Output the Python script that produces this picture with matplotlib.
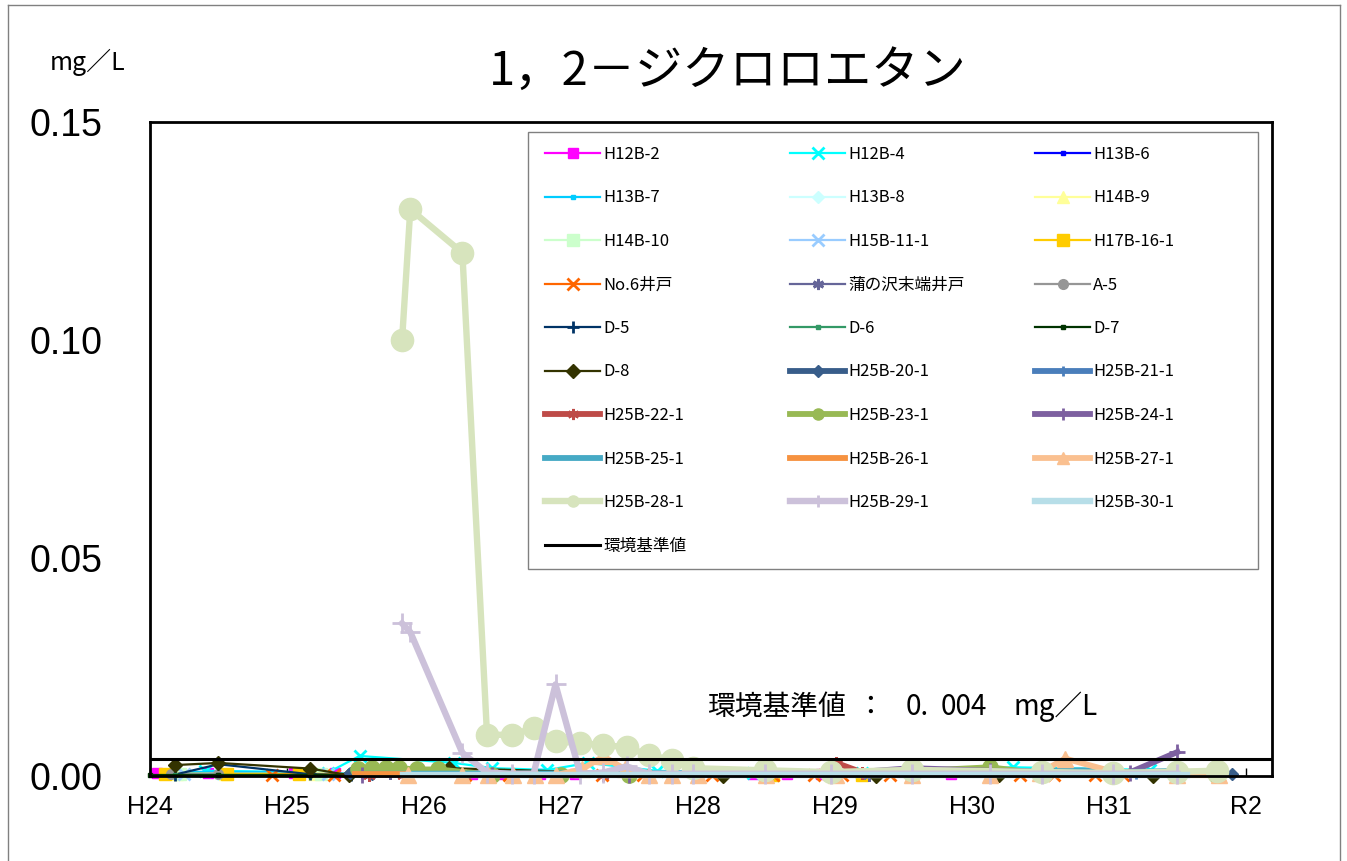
import numpy as np
import matplotlib
matplotlib.use("Agg")
import matplotlib.pyplot as plt
from matplotlib.lines import Line2D
from matplotlib.patches import Rectangle

jp = ['Noto Sans CJK JP', 'DejaVu Sans']
num = ['Liberation Sans', 'DejaVu Sans']

# x values are years counted from the start of H24
year_labels = ['H24', 'H25', 'H26', 'H27', 'H28', 'H29', 'H30', 'H31', 'R2']
limit_value = 0.004

# older wells
t_h12b2 = [0.05, 0.42, 1.05, 1.35, 2.35, 2.55, 2.85, 3.1, 4.4, 4.65, 4.9, 5.85]
v_h12b2 = [0.0006, 0.0006, 0.0006, 0.0006, 0.0005, 0.0005, 0.0005, 0.0005, 0.0005, 0.0005, 0.0005, 0.0005]
t_h12b4 = [0.4, 1.3, 1.53, 2.22, 2.5, 2.9, 3.2, 3.7, 4.4, 5.2, 5.55, 6.3, 7.3]
v_h12b4 = [0.0012, 0.0008, 0.0046, 0.003, 0.0018, 0.0014, 0.003, 0.0012, 0.0008, 0.0008, 0.0012, 0.002, 0.0014]
t_h13b6 = [0.18, 0.5, 1.17, 1.47]
v_h13b6 = [0.0004, 0.0004, 0.0004, 0.0004]
t_h13b7 = [0.18, 0.5, 1.17, 1.47]
v_h13b7 = [0.0009, 0.0010, 0.0008, 0.0006]
t_h13b8 = [0.18, 0.5, 1.17, 1.47]
v_h13b8 = [0.0005, 0.0005, 0.0005, 0.0005]
t_h14b9 = [0.2, 0.55, 1.2]
v_h14b9 = [0.0004, 0.0004, 0.0004]
t_h14b10 = [0.22, 1.25]
v_h14b10 = [0.0005, 0.0005]
t_h15b11 = [0.25, 1.3]
v_h15b11 = [0.0004, 0.0004]
t_h17b16 = [0.11, 0.56, 1.09, 4.55, 5.2]
v_h17b16 = [0.0005, 0.0005, 0.0005, 0.0003, 0.0003]
t_no6 = [0.89, 1.34, 2.3, 2.62, 3.3, 3.6, 4.1, 4.55, 4.85, 5.05, 5.4, 6.35, 6.6, 6.9, 7.1, 7.5, 7.8]
v_no6 = [0.0003, 0.0003, 0.0002, 0.0002, 0.0002, 0.0002, 0.0002, 0.0002, 0.0002, 0.0002, 0.0002,
         0.0002, 0.0002, 0.0002, 0.0002, 0.0002, 0.0002]
t_kaba = [1.6, 1.75, 4.95, 5.25]
v_kaba = [0.0006, 0.0006, 0.0003, 0.0003]
t_a5 = [0.15, 0.5]
v_a5 = [0.0005, 0.0005]
t_d5 = [0.18, 0.5, 1.17, 1.47]
v_d5 = [0.0003, 0.0027, 0.0004, 0.0002]
t_d6 = [0.18, 0.5, 1.17, 1.47]
v_d6 = [0.0003, 0.0003, 0.0003, 0.0003]
t_d7 = [0.0, 0.5, 1.17, 1.47]
v_d7 = [0.0002, 0.0002, 0.0002, 0.0002]
t_d8 = [0.18, 0.5, 1.17, 1.45, 2.18, 4.18, 5.3, 6.2, 7.32]
v_d8 = [0.0025, 0.003, 0.0017, 0.0002, 0.0018, 0.0, 0.0, 0.0002, 0.0]

# H25 wells
t_20 = [1.46, 1.62, 7.82, 7.9]
v_20 = [0.0008, 0.0005, 0.0004, 0.0004]
t_21 = [1.55, 7.2, 7.8]
v_21 = [0.0004, 0.0004, 0.0004]
t_22 = [1.6, 1.85, 2.3, 2.65, 2.96, 3.31, 3.64, 4.0, 4.5, 4.95, 5.01, 5.2, 5.56, 6.13, 6.51, 7.03, 7.5, 7.8]
v_22 = [0.0003, 0.0003, 0.0003, 0.0003, 0.0003, 0.0003, 0.0003, 0.0003, 0.0003, 0.0003, 0.003, 0.0008,
        0.0005, 0.0003, 0.0003, 0.0003, 0.0003, 0.0002]
t_23 = [1.52, 1.62, 1.72, 1.82, 1.95, 2.1, 2.5, 3.0, 3.5, 4.5, 5.56, 6.13, 6.5, 7.5, 7.78]
v_23 = [0.0015, 0.0018, 0.0018, 0.0018, 0.0015, 0.0015, 0.0003, 0.0003, 0.0003, 0.0003, 0.0011, 0.002,
        0.0006, 0.0002, 0.0002]
t_24 = [1.55, 2.5, 3.5, 4.95, 5.56, 6.13, 6.51, 7.15, 7.5]
v_24 = [0.0003, 0.0003, 0.0003, 0.0004, 0.0018, 0.0012, 0.001, 0.0008, 0.0055]
t_25 = [1.55, 6.2, 6.5, 6.8, 7.15, 7.5]
v_25 = [0.0005, 0.0008, 0.0012, 0.0013, 0.0009, 0.0012]
t_26 = [1.5, 1.85]
v_26 = [0.0004, 0.0004]
t_27 = [1.88, 2.28, 2.47, 2.65, 2.81, 2.96, 3.15, 3.31, 3.47, 3.64, 3.81, 4.0, 4.5, 5.01, 5.56, 6.13,
        6.5, 6.68, 7.03, 7.5, 7.8]
v_27 = [0.0002, 0.0002, 0.0002, 0.0002, 0.0002, 0.0002, 0.0015, 0.0045, 0.0015, 0.0002, 0.0002, 0.0002,
        0.0002, 0.0002, 0.0002, 0.0002, 0.0008, 0.004, 0.001, 0.0002, 0.0002]
t_28 = [1.84, 1.90, 2.28, 2.46, 2.64, 2.80, 2.96, 3.14, 3.31, 3.48, 3.64, 3.81, 3.96, 4.49, 4.97, 5.56,
        6.51, 7.03, 7.5, 7.79]
v_28 = [0.100, 0.130, 0.120, 0.0095, 0.0094, 0.011, 0.0080, 0.0075, 0.0071, 0.0066, 0.0048, 0.0037,
        0.0018, 0.0013, 0.0009, 0.0014, 0.0009, 0.0007, 0.0010, 0.0012]
t_29 = [1.84, 1.90, 2.28, 2.46, 2.64, 2.80, 2.96, 3.14, 3.31, 3.48, 3.64, 3.81, 3.96, 4.49, 4.97, 5.56,
        6.13, 6.51, 7.03, 7.5]
v_29 = [0.035, 0.033, 0.0053, 0.0008, 0.0005, 0.0005, 0.021, 0.0005, 0.0008, 0.0022, 0.0005, 0.0005,
        0.0005, 0.0005, 0.0005, 0.0005, 0.0005, 0.0005, 0.0005, 0.0005]
t_30 = [1.85, 2.5, 3.5, 4.5, 5.5, 6.5, 7.57]
v_30 = [0.0003, 0.0003, 0.0003, 0.0003, 0.0003, 0.0003, 0.0003]

# name, t, v, color, marker, markersize, linewidth
series = [
    ('H12B-2', t_h12b2, v_h12b2, '#FF00FF', 's', 7, 1.6),
    ('H12B-4', t_h12b4, v_h12b4, '#00FFFF', 'x', 8, 1.6),
    ('H13B-6', t_h13b6, v_h13b6, '#0000FF', 's', 3, 1.6),
    ('H13B-7', t_h13b7, v_h13b7, '#00CCFF', 's', 3, 1.6),
    ('H13B-8', t_h13b8, v_h13b8, '#CCFFFF', 'D', 6, 1.6),
    ('H14B-9', t_h14b9, v_h14b9, '#FFFF99', '^', 8, 1.6),
    ('H14B-10', t_h14b10, v_h14b10, '#CCFFCC', 's', 8, 1.6),
    ('H15B-11-1', t_h15b11, v_h15b11, '#99CCFF', 'x', 8, 1.6),
    ('H17B-16-1', t_h17b16, v_h17b16, '#FFCC00', 's', 8, 1.6),
    ('No.6井戸', t_no6, v_no6, '#FF6600', 'x', 8, 1.6),
    ('蒲の沢末端井戸', t_kaba, v_kaba, '#666699', (6, 2, 0), 9, 1.6),
    ('A-5', t_a5, v_a5, '#969696', 'o', 7, 1.6),
    ('D-5', t_d5, v_d5, '#003366', '+', 9, 1.6),
    ('D-6', t_d6, v_d6, '#339966', 's', 3, 1.6),
    ('D-7', t_d7, v_d7, '#003300', 's', 3, 1.6),
    ('D-8', t_d8, v_d8, '#333300', 'D', 7, 1.6),
    ('H25B-20-1', t_20, v_20, '#385D8A', 'D', 6, 4.2),
    ('H25B-21-1', t_21, v_21, '#4A7EBB', '+', 7, 4.2),
    ('H25B-22-1', t_22, v_22, '#BE4B48', (6, 2, 0), 9, 4.2),
    ('H25B-23-1', t_23, v_23, '#98B954', 'o', 11, 4.2),
    ('H25B-24-1', t_24, v_24, '#7D60A0', '+', 11, 4.2),
    ('H25B-25-1', t_25, v_25, '#46AAC5', 'None', 0, 4.2),
    ('H25B-26-1', t_26, v_26, '#F69240', 'None', 0, 4.2),
    ('H25B-27-1', t_27, v_27, '#FAC090', '^', 12, 4.2),
    ('H25B-28-1', t_28, v_28, '#D7E4BD', 'o', 16, 4.6),
    ('H25B-29-1', t_29, v_29, '#CCC1DA', '+', 15, 4.6),
    ('H25B-30-1', t_30, v_30, '#B7DEE8', 'None', 0, 4.6),
]

fig = plt.figure(figsize=(13.47, 8.61), dpi=100)
ax = fig.add_axes([150 / 1347, 1 - 776 / 861, 1122 / 1347, 654 / 861])

handles = []
for name, t, v, col, mk, ms, lw in series:
    mew = 2 if mk in ('x', '+', (6, 2, 0)) else 1
    ax.plot(t, v, color=col, marker=mk, markersize=ms, linewidth=lw, markeredgewidth=mew,
            markeredgecolor=col, markerfacecolor=col, clip_on=False)
    # legend entries use smaller markers, as in the original
    handles.append(Line2D([], [], color=col, marker=mk, markersize=min(ms, 8), linewidth=lw,
                          markeredgewidth=mew, markeredgecolor=col, markerfacecolor=col, label=name))

ax.axhline(limit_value, color='black', linewidth=2.2, zorder=10)
handles.append(Line2D([], [], color='black', linewidth=2.2, label='環境基準値'))

ax.set_xlim(0, 8.19)
ax.set_ylim(0, 0.15)
ax.set_xticks(np.arange(len(year_labels)))
ax.set_xticklabels(year_labels, fontsize=18, family=num)
ax.set_yticks([0, 0.05, 0.10, 0.15])
ax.set_yticklabels(['0.00', '0.05', '0.10', '0.15'], fontsize=27, family=num)
ax.tick_params(axis='x', direction='in', length=6, width=1, pad=14)
ax.tick_params(axis='y', length=0, pad=34)
for s in ax.spines.values():
    s.set_linewidth(2)

# legend box, then one legend per column so entries read row by row
ax.add_patch(Rectangle(((528 - 150) / 1122, (776 - 569) / 654), 730 / 1122, 437 / 654,
                       transform=ax.transAxes, facecolor='white', edgecolor='#808080',
                       linewidth=1, zorder=19, clip_on=False))
col_x = [545, 790, 1035]
for c in range(3):
    hs = handles[c::3]
    leg = ax.legend(handles=hs, loc='upper left', frameon=False,
                    bbox_to_anchor=((col_x[c] - 150) / 1122, (776 - 146) / 654),
                    borderaxespad=0, borderpad=0, prop={'family': jp, 'size': 12},
                    handlelength=3.3, handletextpad=0.2, labelspacing=1.59)
    leg.set_zorder(20)
    if c < 2:
        ax.add_artist(leg)

fig.text(728 / 1347, 1 - 72 / 861, '1，2－ジクロロエタン', ha='center', va='center',
         fontsize=34, family=jp)
fig.text(50 / 1347, 1 - 62 / 861, 'mg／L', ha='left', va='center', fontsize=18, family=jp)

# 環境基準値 note, pieces placed to follow the wide spacing of the original
note_parts = [('環境基準値', 707), ('：', 856), ('0.', 906), ('004', 941), ('mg／L', 1014)]
for txt, x in note_parts:
    fig.text(x / 1347, 1 - 707 / 861, txt, ha='left', va='center', fontsize=20, family=jp)

# outer frame of the picture
for xs, ys in [([8, 8], [0, 856]), ([8, 1340], [856, 856]), ([1340, 1340], [0, 856])]:
    fig.add_artist(Line2D([x / 1347 for x in xs], [y / 861 for y in ys], color='#808080', linewidth=1))

fig.savefig('out.png', dpi=100)
